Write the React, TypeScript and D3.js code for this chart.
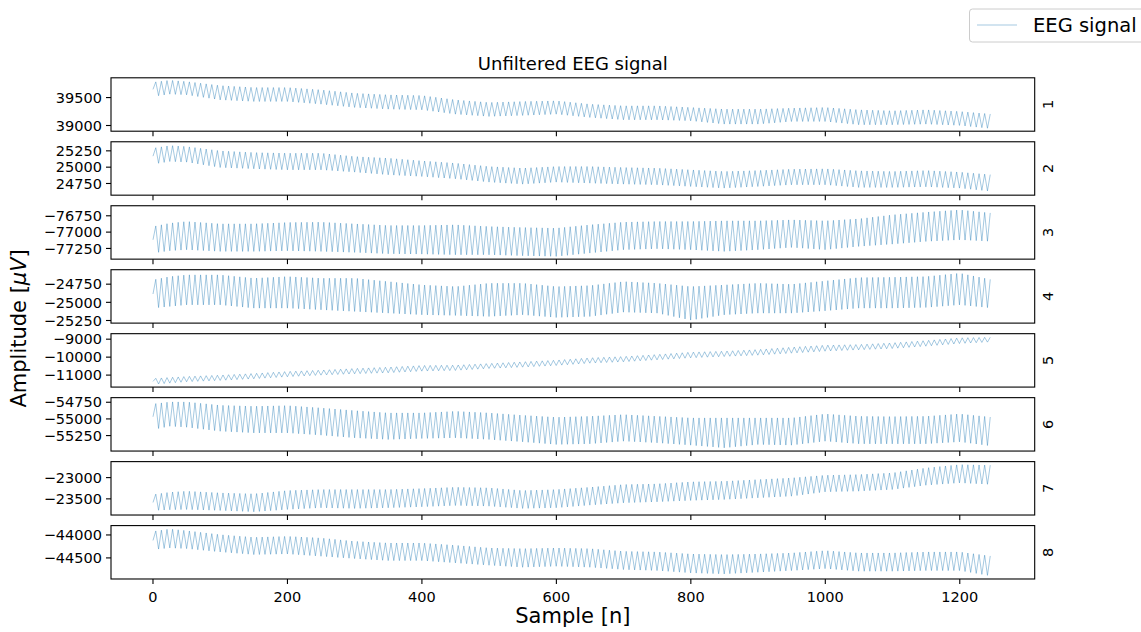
import React from "react";
import * as d3 from "d3";

const knots = [0, 25, 50, 100, 150, 200, 250, 300, 350, 400, 450, 500, 550, 600, 650, 700, 750, 800, 850, 900, 950, 1000, 1050, 1100, 1150, 1200, 1249];

// Upper (peaks) and lower (troughs) envelopes, µV
const ch1Upper = [39775, 39810, 39787, 39715, 39680, 39680, 39638, 39578, 39549, 39537, 39459, 39412, 39430, 39442, 39382, 39352, 39352, 39323, 39293, 39293, 39311, 39323, 39281, 39263, 39281, 39251, 39203];
const ch1Lower = [39519, 39561, 39549, 39459, 39430, 39430, 39382, 39323, 39293, 39281, 39203, 39162, 39180, 39203, 39144, 39102, 39102, 39084, 39025, 39025, 39072, 39072, 39013, 39013, 39025, 39001, 38942];

const ch2Upper = [25291, 25331, 25316, 25250, 25224, 25214, 25214, 25163, 25138, 25097, 25061, 25010, 24985, 25010, 25010, 24995, 24985, 24959, 24934, 24949, 24969, 24975, 24944, 24934, 24949, 24924, 24883];
const ch2Lower = [25046, 25087, 25077, 24995, 24975, 24959, 24959, 24924, 24883, 24857, 24822, 24771, 24740, 24771, 24755, 24740, 24730, 24704, 24679, 24704, 24730, 24730, 24689, 24689, 24699, 24679, 24628];

const ch3Upper = [-76914, -76863, -76837, -76873, -76873, -76852, -76847, -76873, -76898, -76898, -76888, -76914, -76929, -76939, -76888, -76847, -76837, -76837, -76827, -76827, -76812, -76827, -76796, -76735, -76694, -76659, -76710];
const ch3Lower = [-77321, -77286, -77270, -77296, -77296, -77286, -77296, -77311, -77332, -77337, -77347, -77347, -77362, -77372, -77321, -77270, -77255, -77270, -77296, -77270, -77235, -77270, -77219, -77184, -77143, -77118, -77143];

const ch4Upper = [-24691, -24645, -24622, -24622, -24668, -24645, -24668, -24668, -24714, -24760, -24783, -24737, -24737, -24783, -24769, -24714, -24737, -24783, -24760, -24737, -24751, -24705, -24659, -24654, -24645, -24599, -24691];
const ch4Lower = [-25080, -25057, -25035, -25035, -25080, -25080, -25103, -25126, -25149, -25172, -25181, -25195, -25172, -25209, -25195, -25135, -25149, -25245, -25172, -25149, -25149, -25117, -25080, -25080, -25071, -25035, -25080];

const ch5Upper = [-11187, -11131, -11076, -11002, -10909, -10798, -10724, -10631, -10557, -10465, -10446, -10353, -10261, -10168, -10039, -9965, -9853, -9724, -9668, -9576, -9446, -9335, -9298, -9205, -9076, -8927, -8890];
const ch5Lower = [-11520, -11446, -11372, -11298, -11205, -11094, -11002, -10928, -10872, -10780, -10742, -10631, -10557, -10465, -10335, -10261, -10150, -10039, -9965, -9890, -9779, -9668, -9594, -9520, -9390, -9242, -9150];

const ch6Upper = [-54775, -54745, -54745, -54795, -54810, -54800, -54835, -54875, -54910, -54910, -54885, -54910, -54945, -54975, -54960, -54935, -54960, -54985, -54985, -54985, -54985, -54925, -54960, -54965, -54960, -54925, -54975];
const ch6Lower = [-55160, -55110, -55125, -55185, -55210, -55210, -55244, -55284, -55309, -55294, -55284, -55309, -55344, -55384, -55374, -55334, -55359, -55394, -55434, -55384, -55394, -55334, -55374, -55374, -55374, -55344, -55409];

const ch7Upper = [-23398, -23343, -23319, -23359, -23382, -23304, -23280, -23280, -23280, -23257, -23226, -23241, -23304, -23280, -23226, -23163, -23147, -23100, -23085, -23046, -23007, -22944, -22928, -22889, -22772, -22694, -22709];
const ch7Lower = [-23773, -23757, -23750, -23773, -23804, -23750, -23710, -23726, -23710, -23687, -23656, -23672, -23726, -23710, -23648, -23593, -23570, -23538, -23515, -23476, -23437, -23335, -23319, -23280, -23179, -23124, -23163];

const ch8Upper = [-43921, -43870, -43906, -43993, -44051, -44030, -44066, -44138, -44175, -44175, -44225, -44283, -44298, -44283, -44298, -44356, -44370, -44414, -44428, -44414, -44392, -44341, -44392, -44392, -44370, -44370, -44464];
const ch8Lower = [-44319, -44283, -44298, -44370, -44428, -44414, -44464, -44515, -44559, -44559, -44609, -44660, -44704, -44682, -44704, -44754, -44776, -44827, -44849, -44812, -44776, -44733, -44790, -44790, -44776, -44776, -44899];

const uppers = [ch1Upper, ch2Upper, ch3Upper, ch4Upper, ch5Upper, ch6Upper, ch7Upper, ch8Upper];
const lowers = [ch1Lower, ch2Lower, ch3Lower, ch4Lower, ch5Lower, ch6Lower, ch7Lower, ch8Lower];

const channelNames = ["1", "2", "3", "4", "5", "6", "7", "8"];

// y-axis value ranges of each panel
const yDomains = [
  [38898, 39854],
  [24571, 25389],
  [-77414, -76596],
  [-25286, -24551],
  [-11667, -8694],
  [-55482, -54681],
  [-23880, -22624],
  [-44959, -43796],
];

const yTicks = [
  [39000, 39500],
  [24750, 25000, 25250],
  [-77250, -77000, -76750],
  [-25250, -25000, -24750],
  [-11000, -10000, -9000],
  [-55250, -55000, -54750],
  [-23500, -23000],
  [-44500, -44000],
];

const xTicks = [0, 200, 400, 600, 800, 1000, 1200];
const LAST_SAMPLE = 1249;
const PERIOD = 8.33; // samples per oscillation cycle

const W = 1141;
const H = 632;
const LEFT = 111;
const RIGHT = 1034.7;
const TOP0 = 77.8;
const PITCH = 63.97;
const PANEL_H = 53.4;
const FONT = "DejaVu Sans, sans-serif";
const LINE_COLOR = "#1f77b4";

const fmt = (v: number) => (v < 0 ? "\u2212" + Math.abs(v) : String(v));

function buildPoints(ci: number): [number, number][] {
  const up = d3.scaleLinear().domain(knots).range(uppers[ci]);
  const lo = d3.scaleLinear().domain(knots).range(lowers[ci]);
  const pts: [number, number][] = [];
  pts.push([0, (up(0) + lo(0)) / 2]);
  const half = PERIOD / 2;
  for (let k = 1; k * half <= LAST_SAMPLE; k++) {
    const t = k * half;
    pts.push([t, k % 2 === 1 ? up(t) : lo(t)]);
  }
  return pts;
}

export default function App() {
  const x = d3.scaleLinear().domain([-62.45, 1311.45]).range([LEFT, RIGHT]);

  const panels = channelNames.map((name, i) => {
    const top = TOP0 + PITCH * i;
    const bottom = top + PANEL_H;
    const y = d3.scaleLinear().domain(yDomains[i]).range([bottom, top]);
    const line = d3
      .line<[number, number]>()
      .x((d) => x(d[0]))
      .y((d) => y(d[1]));
    const path = line(buildPoints(i)) || "";
    const isLast = i === channelNames.length - 1;
    return (
      <g key={name}>
        <defs>
          <clipPath id={`clip${i}`}>
            <rect x={LEFT} y={top} width={RIGHT - LEFT} height={PANEL_H} />
          </clipPath>
        </defs>
        <path
          d={path}
          fill="none"
          stroke={LINE_COLOR}
          strokeWidth={0.5}
          strokeOpacity={0.8}
          clipPath={`url(#clip${i})`}
        />
        <rect
          x={LEFT}
          y={top}
          width={RIGHT - LEFT}
          height={PANEL_H}
          fill="none"
          stroke="#000"
          strokeWidth={1.1}
        />
        {yTicks[i].map((t) => (
          <g key={t}>
            <line x1={LEFT - 5} x2={LEFT} y1={y(t)} y2={y(t)} stroke="#000" strokeWidth={1.1} />
            <text
              x={LEFT - 9}
              y={y(t)}
              dy="0.36em"
              textAnchor="end"
              fontSize={14.5}
              fontFamily={FONT}
              fill="#000"
            >
              {fmt(t)}
            </text>
          </g>
        ))}
        {xTicks.map((t) => (
          <g key={t}>
            <line x1={x(t)} x2={x(t)} y1={bottom} y2={bottom + 5} stroke="#000" strokeWidth={1.1} />
            {isLast && (
              <text
                x={x(t)}
                y={bottom + 23}
                textAnchor="middle"
                fontSize={14.5}
                fontFamily={FONT}
                fill="#000"
              >
                {t}
              </text>
            )}
          </g>
        ))}
        <text
          transform={`translate(${RIGHT + 13}, ${top + PANEL_H / 2}) rotate(-90)`}
          textAnchor="middle"
          dy="0.36em"
          fontSize={14.5}
          fontFamily={FONT}
          fill="#000"
        >
          {name}
        </text>
      </g>
    );
  });

  const midY = (TOP0 + TOP0 + PITCH * 7 + PANEL_H) / 2;
  const midX = (LEFT + RIGHT) / 2;

  return (
    <svg width={W} height={H} style={{ position: "absolute", left: 0, top: 0, background: "#fff" }}>
      <rect x={0} y={0} width={W} height={H} fill="#fff" />
      {panels}
      <text x={midX} y={70} textAnchor="middle" fontSize={18} fontFamily={FONT} fill="#000">
        Unfiltered EEG signal
      </text>
      <text x={midX} y={623} textAnchor="middle" fontSize={21} fontFamily={FONT} fill="#000">
        Sample [n]
      </text>
      <text
        transform={`translate(26, ${midY}) rotate(-90)`}
        textAnchor="middle"
        fontSize={21}
        fontFamily={FONT}
        fill="#000"
      >
        Amplitude [<tspan fontStyle="italic">μV</tspan>]
      </text>
      <g>
        <rect x={969.5} y={9} width={190} height={33} rx={3} fill="#fff" fillOpacity={0.8} stroke="#cccccc" strokeWidth={1} />
        <line x1={977} x2={1017} y1={25} y2={25} stroke={LINE_COLOR} strokeWidth={0.5} strokeOpacity={0.8} />
        <text x={1033} y={32} fontSize={19.5} fontFamily={FONT} fill="#000">
          EEG signal
        </text>
      </g>
    </svg>
  );
}
